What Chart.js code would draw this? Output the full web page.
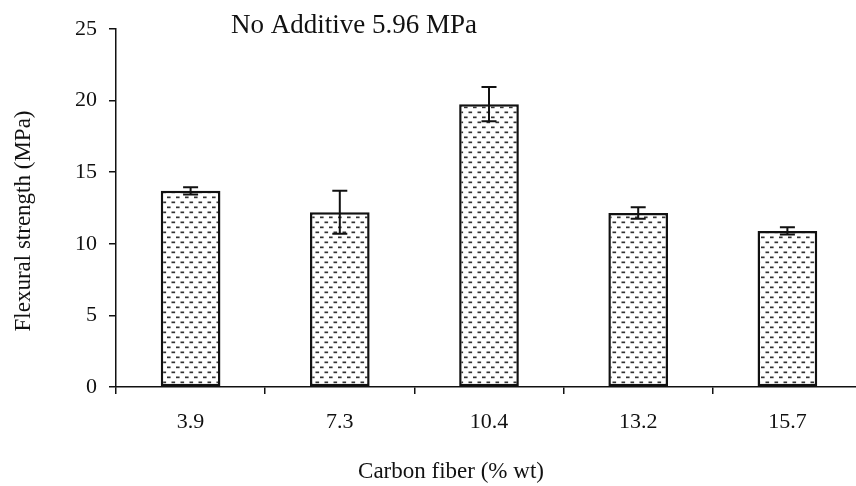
<!DOCTYPE html>
<html>
<head>
<meta charset="utf-8">
<script src="https://cdn.jsdelivr.net/npm/chart.js@4"></script>
<style>
  html, body { margin: 0; padding: 0; background: #fff; }
  #wrap { width: 856px; height: 486px; overflow: hidden; position: relative; }
  canvas { display: block; }
</style>
</head>
<body>
<div id="wrap"><canvas id="c" width="870" height="486"></canvas></div>
<script>
// Flexural strength vs. carbon fiber content
const categories = ['3.9', '7.3', '10.4', '13.2', '15.7'];
const strength = [13.7, 12.2, 19.75, 12.15, 10.9];
const strengthError = [0.25, 1.5, 1.2, 0.4, 0.25];
const yTicks = [0, 5, 10, 15, 20, 25];
const titleText = 'No Additive 5.96 MPa';
const xTitleText = 'Carbon fiber (% wt)';
const yTitleText = 'Flexural strength (MPa)';

const SERIF = '"Liberation Serif", "Times New Roman", serif';
const INK = '#111';

// dashed "brick" fill used inside the bars
function makeDashPattern() {
  const t = document.createElement('canvas');
  t.width = 9; t.height = 10;
  const g = t.getContext('2d');
  g.fillStyle = '#fff';
  g.fillRect(0, 0, 9, 10);
  g.fillStyle = '#333';
  g.fillRect(0.5, 1.5, 3.6, 1.7);
  g.fillRect(5, 6.5, 3.6, 1.7);
  return document.getElementById('c').getContext('2d').createPattern(t, 'repeat');
}

// error bars with caps, drawn through the chart scales
const errorBars = {
  id: 'errorBars',
  afterDatasetsDraw(chart) {
    const { ctx } = chart;
    const meta = chart.getDatasetMeta(0);
    const y = chart.scales.y;
    ctx.save();
    ctx.strokeStyle = INK;
    ctx.lineWidth = 2;
    meta.data.forEach((bar, i) => {
      const x = bar.x;
      const hi = y.getPixelForValue(strength[i] + strengthError[i]);
      const lo = y.getPixelForValue(strength[i] - strengthError[i]);
      const cap = 7.5;
      ctx.beginPath();
      ctx.moveTo(x, hi); ctx.lineTo(x, lo);
      ctx.moveTo(x - cap, hi); ctx.lineTo(x + cap, hi);
      ctx.moveTo(x - cap, lo); ctx.lineTo(x + cap, lo);
      ctx.stroke();
    });
    ctx.restore();
  }
};

// chart title and axis titles
const labelsPlugin = {
  id: 'labelsPlugin',
  afterDraw(chart) {
    const { ctx, chartArea } = chart;
    ctx.save();
    ctx.fillStyle = INK;
    ctx.textBaseline = 'alphabetic';
    ctx.font = '27px ' + SERIF;
    ctx.textAlign = 'left';
    ctx.fillText(titleText, chartArea.left + 115, chartArea.top + 4);

    ctx.font = '23px ' + SERIF;
    ctx.textAlign = 'center';
    ctx.fillText(xTitleText, chartArea.left + 335, 478);

    ctx.translate(24, 221);
    ctx.rotate(-Math.PI / 2);
    ctx.textBaseline = 'middle';
    ctx.fillText(yTitleText, 0, 0);
    ctx.restore();
  }
};

new Chart(document.getElementById('c'), {
  type: 'bar',
  data: {
    labels: categories,
    datasets: [{
      data: strength,
      backgroundColor: makeDashPattern(),
      borderColor: INK,
      borderWidth: 2.5,
      borderSkipped: false,
      barPercentage: 0.4,
      categoryPercentage: 1
    }]
  },
  options: {
    responsive: false,
    animation: false,
    devicePixelRatio: 1,
    layout: { padding: { left: 0, right: 8, top: 29, bottom: 0 } },
    plugins: { legend: { display: false }, tooltip: { enabled: false }, title: { display: false } },
    scales: {
      x: {
        grid: { display: true, offset: true, drawOnChartArea: false, drawTicks: true, tickLength: 7, color: INK, lineWidth: 1.5 },
        border: { display: true, color: INK, width: 1.5 },
        ticks: { color: INK, font: { family: SERIF, size: 22 }, padding: 15, maxRotation: 0 },
        afterFit(scale) { scale.height = 99; }
      },
      y: {
        min: 0,
        max: 25,
        afterBuildTicks(scale) { scale.ticks = yTicks.map(v => ({ value: v })); },
        grid: { display: true, drawOnChartArea: false, drawTicks: true, tickLength: 7, color: INK, lineWidth: 1.5 },
        border: { display: true, color: INK, width: 1.5 },
        ticks: { color: INK, font: { family: SERIF, size: 22 }, padding: 12 },
        afterFit(scale) { scale.width = 116; }
      }
    }
  },
  plugins: [errorBars, labelsPlugin]
});
</script>
</body>
</html>
